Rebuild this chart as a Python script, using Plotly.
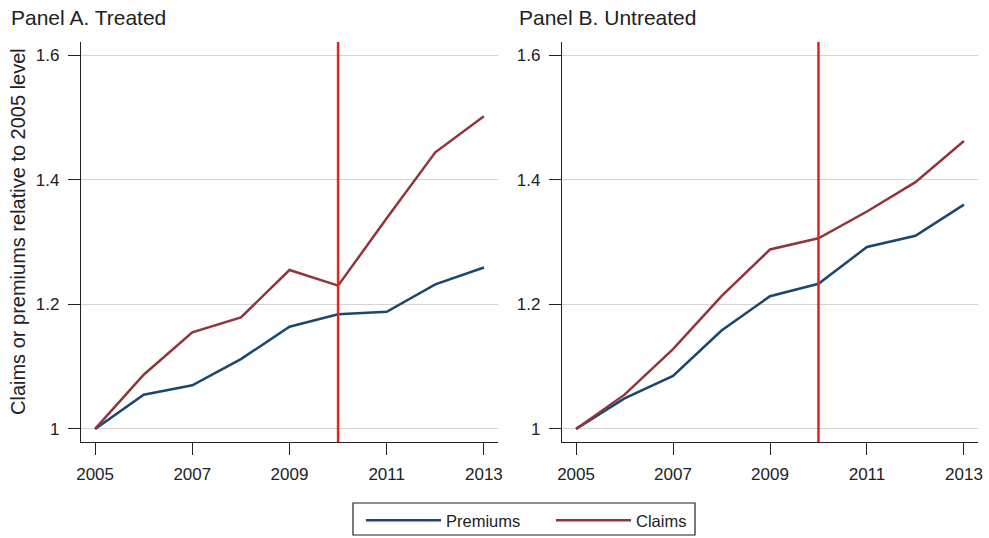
import plotly.graph_objects as go
from plotly.subplots import make_subplots

years = [2005, 2006, 2007, 2008, 2009, 2010, 2011, 2012, 2013]

treated_premiums = [1.000, 1.055, 1.070, 1.112, 1.164, 1.184, 1.188, 1.232, 1.259]
treated_claims = [1.000, 1.087, 1.155, 1.179, 1.255, 1.230, 1.338, 1.444, 1.502]

untreated_premiums = [1.000, 1.049, 1.085, 1.158, 1.213, 1.233, 1.292, 1.310, 1.360]
untreated_claims = [1.000, 1.055, 1.128, 1.213, 1.288, 1.306, 1.349, 1.396, 1.462]

x_ticks = [2005, 2007, 2009, 2011, 2013]
y_ticks = [1.0, 1.2, 1.4, 1.6]
y_tick_labels = ["1", "1.2", "1.4", "1.6"]
treatment_year = 2010

panel_titles = ["Panel A. Treated", "Panel B. Untreated"]
y_title = "Claims or premiums relative to 2005 level"

BLUE = "#1a476f"
MAROON = "#90353b"
RED = "#e8201e"
INK = "#222222"
FONT = "Liberation Sans, Arial, sans-serif"

fig = make_subplots(rows=1, cols=2)

panels = [(treated_premiums, treated_claims), (untreated_premiums, untreated_claims)]
for i, (prem, claims) in enumerate(panels):
    col = i + 1
    fig.add_trace(go.Scatter(x=years, y=prem, mode="lines", name="Premiums",
                             line=dict(color=BLUE, width=2.5), showlegend=(i == 0)),
                  row=1, col=col)
    fig.add_trace(go.Scatter(x=years, y=claims, mode="lines", name="Claims",
                             line=dict(color=MAROON, width=2.5), showlegend=(i == 0)),
                  row=1, col=col)
    fig.add_vline(x=treatment_year, line=dict(color=RED, width=2.5), row=1, col=col)

xdomains = [[81 / 989, 498 / 989], [562 / 989, 978 / 989]]
ydomain = [1 - 442 / 538, 1 - 42 / 538]

for i in range(2):
    xa = "xaxis" if i == 0 else "xaxis2"
    ya = "yaxis" if i == 0 else "yaxis2"
    fig.layout[xa].update(
        domain=xdomains[i], range=[2004.71, 2013.29], tickvals=x_ticks,
        ticks="outside", ticklen=12, tickwidth=1.2, tickcolor=INK,
        showline=True, linecolor=INK, linewidth=1.2, showgrid=False,
        zeroline=False, tickfont=dict(size=17, color=INK, family=FONT),
        ticklabelstandoff=4, automargin=False,
    )
    fig.layout[ya].update(
        domain=ydomain, range=[0.979, 1.621], tickvals=y_ticks, ticktext=y_tick_labels,
        ticks="outside", ticklen=12, tickwidth=1.2, tickcolor=INK,
        showline=True, linecolor=INK, linewidth=1.2, showgrid=True,
        gridcolor="#d4d4d4", gridwidth=1.2, zeroline=False,
        tickfont=dict(size=17, color=INK, family=FONT),
        ticklabelstandoff=5, automargin=False,
    )

annotations = [
    dict(text=panel_titles[0], x=9 / 989, y=1 - 17 / 538, xref="paper", yref="paper",
         xanchor="left", yanchor="middle", showarrow=False,
         font=dict(size=21, color=INK, family=FONT)),
    dict(text=panel_titles[1], x=517 / 989, y=1 - 17 / 538, xref="paper", yref="paper",
         xanchor="left", yanchor="middle", showarrow=False,
         font=dict(size=21, color=INK, family=FONT)),
    dict(text=y_title, x=18 / 989, y=1 - 232 / 538, xref="paper", yref="paper",
         xanchor="center", yanchor="middle", textangle=-90, showarrow=False,
         font=dict(size=20, color=INK, family=FONT)),
]
fig.update_layout(annotations=annotations)

# legend frame
fig.add_shape(type="rect", xref="paper", yref="paper",
              x0=353 / 989, x1=695 / 989, y0=1 - 535 / 538, y1=1 - 503 / 538,
              line=dict(color=INK, width=1.2), fillcolor="rgba(0,0,0,0)", layer="above")

fig.update_layout(
    width=989, height=538,
    margin=dict(l=0, r=0, t=0, b=0),
    paper_bgcolor="white", plot_bgcolor="white",
    font=dict(family=FONT, color=INK),
    legend=dict(orientation="h", x=361 / 989, xanchor="left", y=1 - 503 / 538,
                yanchor="top", borderwidth=0, bgcolor="rgba(0,0,0,0)",
                font=dict(size=16.5, color=INK, family=FONT),
                itemwidth=75, entrywidth=100),
)

fig.write_html("out.html", config={"displayModeBar": False},
               post_script="document.body.style.margin='0';document.body.style.padding='0';")
